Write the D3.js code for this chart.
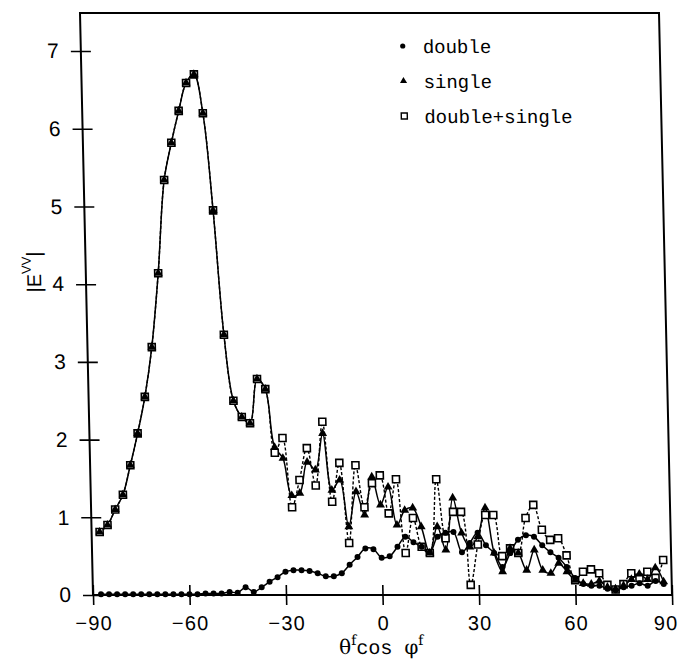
<!DOCTYPE html>
<html lang="en">
<head>
<meta charset="utf-8">
<script src="https://cdn.jsdelivr.net/npm/d3@7"></script>
<style>
  body { margin: 0; background: #fff; }
  svg { display: block; }
</style>
</head>
<body>
<div id="chart"></div>
<script>
// x positions, shared by all three series
var xVals = [-87.5,-85,-82.5,-80,-77.5,-75,-72.5,-70,-67.5,-65,-62.5,-60,-57.5,-55,-52.5,-50,
  -47.5,-45,-42.5,-40,-37.5,-35,-32.5,-30,-27.5,-25,-22.5,-20,-17.5,-15,-12.5,-10,-7.5,-5,-2.5,
  0,2.5,5,7.5,10,12.5,15,17.5,20,22.5,25,27.5,30,32.5,35,37.5,40,42.5,45,47.5,50,52.5,55,57.5,
  60,62.5,65,67.5,70,72.5,75,77.5,80,82.5,85,87.5];
var yDouble = [0.01,0.01,0.01,0.01,0.01,0.01,0.01,0.01,0.01,0.01,0.01,0.01,0.01,0.02,0.02,0.02,
  0.04,0.03,0.10,0.04,0.10,0.17,0.23,0.30,0.32,0.32,0.31,0.28,0.24,0.24,0.28,0.39,0.49,0.60,0.59,
  0.48,0.50,0.62,0.75,0.68,0.62,0.55,0.75,0.80,0.81,0.55,0.67,0.80,0.64,0.54,0.36,0.54,0.71,0.77,
  0.75,0.64,0.55,0.48,0.36,0.22,0.14,0.12,0.12,0.08,0.06,0.10,0.12,0.15,0.12,0.18,0.14];
var ySingle = [0.81,0.90,1.10,1.29,1.67,2.08,2.55,3.19,4.14,5.34,5.82,6.23,6.59,6.70,
  6.20,4.95,3.35,2.50,2.29,2.21,2.78,2.65,1.90,1.76,1.28,1.31,1.71,1.61,2.08,
  1.35,1.48,0.88,1.33,1.03,1.52,1.16,1.39,0.90,1.09,1.12,0.88,0.54,0.88,0.58,1.25,0.80,0.62,0.75,
  1.12,0.54,0.30,0.60,0.54,0.32,0.58,0.32,0.28,0.41,0.30,0.19,0.15,0.14,0.18,0.10,0.08,0.12,0.20,
  0.27,0.20,0.35,0.17];
var ySum = [0.81,0.90,1.10,1.29,1.67,2.08,2.55,3.19,4.14,5.34,5.82,6.23,6.59,6.70,
  6.20,4.95,3.35,2.50,2.29,2.21,2.78,2.65,1.83,2.02,1.13,1.48,1.89,1.41,2.23,
  1.20,1.70,0.67,1.67,1.13,1.44,1.54,1.05,1.49,0.54,0.99,0.62,0.54,1.49,0.73,1.07,1.07,0.13,0.65,
  1.03,1.03,0.50,0.60,0.54,0.99,1.16,0.84,0.71,0.73,0.51,0.19,0.30,0.33,0.28,0.13,0.07,0.14,0.28,
  0.22,0.30,0.22,0.45];

var xTicks = [-90,-60,-30,0,30,60,90];
var yTicks = [0,1,2,3,4,5,6,7];
var legendNames = ["double","single","double+single"];

var width = 681, height = 660;
var plotL = 93, plotR = 672, plotT = 13, plotB = 595;
var skew = 1.28;   // the scan leans a little

var x = d3.scaleLinear().domain([-90, 90]).range([plotL, plotR]);
var y = d3.scaleLinear().domain([0, 7.49]).range([plotB, plotT]);

var svg = d3.select("#chart").append("svg")
  .attr("width", width)
  .attr("height", height);

var t = Math.tan(skew * Math.PI / 180);
var g = svg.append("g")
  .attr("transform", "translate(" + (-t * plotB) + ",0) skewX(" + skew + ")");

// frame
g.append("rect")
  .attr("x", plotL).attr("y", plotT)
  .attr("width", plotR - plotL).attr("height", plotB - plotT)
  .attr("fill", "none").attr("stroke", "#000").attr("stroke-width", 2);

// axes with crossing ticks
var xAxis = d3.axisBottom(x).tickValues(xTicks).tickSizeInner(10).tickSizeOuter(0).tickPadding(11)
  .tickFormat(function(d) { return d < 0 ? "\u2212" + (-d) : d; });
var gx = g.append("g").attr("transform", "translate(0," + plotB + ")").call(xAxis);
gx.select(".domain").remove();
gx.selectAll(".tick line").attr("y1", -10).attr("stroke-width", 1.6);
gx.selectAll(".tick text")
  .attr("font-family", "Liberation Sans, Arial, sans-serif")
  .attr("font-size", 20).attr("letter-spacing", 1.2).attr("fill", "#000")
  .attr("dx", function(d) { return d === 90 ? -7 : 0; });

var yAxis = d3.axisLeft(y).tickValues(yTicks).tickSizeInner(10).tickSizeOuter(0).tickPadding(12);
var gy = g.append("g").attr("transform", "translate(" + plotL + ",0)").call(yAxis);
gy.select(".domain").remove();
gy.selectAll(".tick line").attr("x1", 10).attr("stroke-width", 1.6);
gy.selectAll(".tick text")
  .attr("font-family", "Liberation Sans, Arial, sans-serif")
  .attr("font-size", 21).attr("fill", "#000");

// axis titles
var xt = g.append("text")
  .attr("x", 338).attr("y", 654)
  .attr("font-family", "DejaVu Serif, serif")
  .attr("font-size", 20).attr("fill", "#000");
xt.append("tspan").text("\u03b8");
xt.append("tspan").attr("dy", -9).attr("font-size", 14).text("f");
xt.append("tspan").attr("dy", 9).attr("font-family", "Liberation Mono, monospace").text("cos ");
xt.append("tspan").text("\u03c6");
xt.append("tspan").attr("dy", -9).attr("font-size", 14).text("f");

var yt = g.append("text")
  .attr("transform", "translate(48,272) rotate(-90)")
  .attr("text-anchor", "middle")
  .attr("font-family", "Liberation Sans, Arial, sans-serif")
  .attr("font-size", 20).attr("fill", "#000");
yt.append("tspan").text("|E");
yt.append("tspan").attr("dy", -10).attr("font-size", 13).text("VV");
yt.append("tspan").attr("dy", 10).text("|");

// series
var dbl = xVals.map(function(d, i) { return [d, yDouble[i]]; });
var sgl = xVals.map(function(d, i) { return [d, ySingle[i]]; });
var sum = xVals.map(function(d, i) { return [d, ySum[i]]; });

var line = d3.line()
  .x(function(d) { return x(d[0]); })
  .y(function(d) { return y(d[1]); })
  .curve(d3.curveCatmullRom.alpha(0.5));

g.append("path").datum(sum).attr("d", line)
  .attr("fill", "none").attr("stroke", "#000").attr("stroke-width", 1.4)
  .attr("stroke-dasharray", "3,2");
g.append("path").datum(sgl).attr("d", line)
  .attr("fill", "none").attr("stroke", "#000").attr("stroke-width", 1.5);
g.append("path").datum(dbl).attr("d", line)
  .attr("fill", "none").attr("stroke", "#000").attr("stroke-width", 1.5);

var tri = d3.symbol().type(d3.symbolTriangle).size(34);

g.selectAll(".sq").data(sum).enter().append("rect")
  .attr("x", function(d) { return x(d[0]) - 3.5; })
  .attr("y", function(d) { return y(d[1]) - 3.5; })
  .attr("width", 7).attr("height", 7)
  .attr("fill", "#fff").attr("stroke", "#000").attr("stroke-width", 1.6);

g.selectAll(".tri").data(sgl).enter().append("path")
  .attr("d", tri)
  .attr("transform", function(d) { return "translate(" + x(d[0]) + "," + y(d[1]) + ")"; })
  .attr("fill", "#000");

g.selectAll(".dot").data(dbl).enter().append("circle")
  .attr("cx", function(d) { return x(d[0]); })
  .attr("cy", function(d) { return y(d[1]); })
  .attr("r", 3).attr("fill", "#000");

// legend
var lg = g.append("g").attr("transform", "translate(415,46)");
var rowH = 35;
lg.append("circle").attr("cx", 0).attr("cy", 0).attr("r", 2.6).attr("fill", "#000");
lg.append("path").attr("d", d3.symbol().type(d3.symbolTriangle).size(22))
  .attr("transform", "translate(0," + rowH + ")").attr("fill", "#000");
lg.append("rect").attr("x", -3).attr("y", 2 * rowH - 3).attr("width", 6).attr("height", 6)
  .attr("fill", "#fff").attr("stroke", "#000").attr("stroke-width", 1.4);
lg.selectAll(".lt").data(legendNames).enter().append("text")
  .attr("x", 20)
  .attr("y", function(d, i) { return i * rowH; })
  .attr("dy", "0.35em")
  .attr("font-family", "Liberation Mono, Courier New, monospace")
  .attr("font-size", 19).attr("fill", "#000")
  .text(function(d) { return d; });
</script>
</body>
</html>
